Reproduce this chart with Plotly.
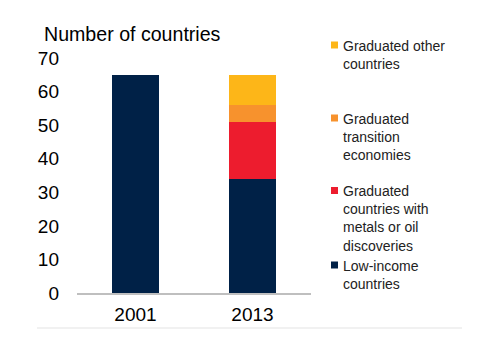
import plotly.graph_objects as go

years = ["2001", "2013"]
low_income = [65, 34]
metals_oil = [0, 17]
transition = [0, 5]
other = [0, 9]

series = [
    ("Low-income countries", low_income, "#002147", "Low-income<br>countries"),
    ("Graduated countries with metals or oil discoveries", metals_oil, "#ED1C2E",
     "Graduated<br>countries with<br>metals or oil<br>discoveries"),
    ("Graduated transition economies", transition, "#F7922D", "Graduated<br>transition<br>economies"),
    ("Graduated other countries", other, "#FDB618", "Graduated other<br>countries"),
]

FONT = "Arial, Liberation Sans, sans-serif"

fig = go.Figure()
for name, vals, color, _ in series:
    fig.add_trace(go.Bar(x=years, y=vals, name=name, marker=dict(color=color, line=dict(width=0)),
                         width=0.4, showlegend=False))

L, R, T, B = 77, 189, 58, 57
W, H = 500, 350
pw, ph = W - L - R, H - T - B

def px(x):
    return (x - L) / pw

def py(y):
    return (H - B - y) / ph

# legend (custom, positioned like the reference)
leg_y = [45, 118, 190.5, 265]
order = [3, 2, 1, 0]
for yy, idx in zip(leg_y, order):
    name, vals, color, label = series[idx]
    fig.add_shape(type="rect", xref="paper", yref="paper",
                  x0=px(331), x1=px(338), y0=py(yy - 3.5), y1=py(yy + 3.5),
                  fillcolor=color, line=dict(width=0))
    fig.add_annotation(xref="paper", yref="paper", x=px(341), y=py(yy - 9.5),
                       xanchor="left", yanchor="top", align="left", showarrow=False,
                       text=label, font=dict(family=FONT, size=14, color="#222222"))

fig.add_annotation(xref="paper", yref="paper", x=px(42), y=py(34), xanchor="left",
                   yanchor="middle", showarrow=False, text="Number of countries",
                   font=dict(family=FONT, size=19.6, color="#000000"))

fig.add_shape(type="line", xref="paper", yref="paper", x0=px(37), x1=px(462),
              y0=py(328), y1=py(328), line=dict(color="#E3E3E3", width=1))

fig.update_layout(
    barmode="stack",
    width=W, height=H,
    margin=dict(l=L, r=R, t=T, b=B),
    paper_bgcolor="white", plot_bgcolor="white",
    font=dict(family=FONT, size=19, color="#000000"),
    xaxis=dict(showline=True, linecolor="#BFBFBF", linewidth=1.5, ticks="",
               showgrid=False, zeroline=False, ticklabelstandoff=3,
               tickfont=dict(size=19)),
    yaxis=dict(range=[0, 70], dtick=10, showgrid=False, zeroline=False, showline=False,
               ticks="", ticklabelstandoff=17, tickfont=dict(size=19)),
)

fig.write_html("out.html")
